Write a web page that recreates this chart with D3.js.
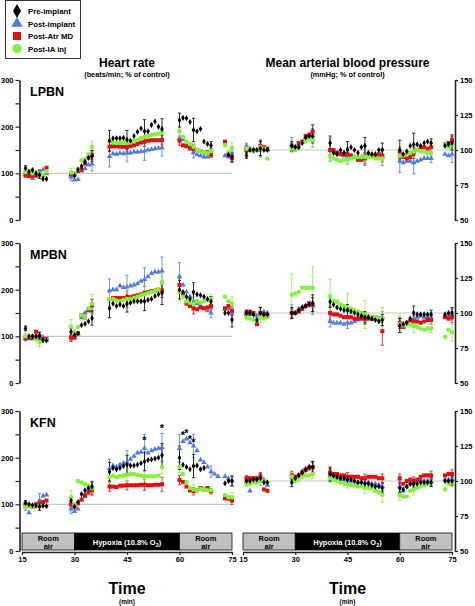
<!DOCTYPE html>
<html><head><meta charset="utf-8">
<script src="https://cdn.jsdelivr.net/npm/d3@7"></script>
<style>
body{margin:0;background:#fff}
svg{display:block}
text{font-family:"Liberation Sans",Arial,sans-serif;font-weight:bold}
</style>
</head><body>
<svg id="c" width="475" height="606"></svg>
<script>
// ---------------- DATA ----------------
const time = [16,17,18,19,20,21,22, 29,30,31,32,33,34,35,
  40,41,42,43,44,45,46,47,48,49,50,51,52,53,54,55,
  60,61,62,63,64,65,66,67,68,69,70,71, 73,74,75];
const errTimes = [16,20,29,35,40,45,50,55,60,64,69,75];
const xTicks = [15,30,45,60,75];
const hrTicks = [0,50,100,150,200,250,300];
const mapTicks = [50,75,100,125,150];
const seriesNames = ["Pre-implant","Post-implant","Post-Atr MD","Post-IA inj"];
const panelNames = ["LPBN","MPBN","KFN"];
const phases = [{from:15,to:30,label:["Room","air"]},{from:30,to:60,label:["Hypoxia (10.8% O","2",")"]},{from:60,to:75,label:["Room","air"]}];

// LPBN heart rate
const hrLPBN_pre  = [111,103,107,100,97,88,88, null,95,108,115,125,133,137, 170,175,175,175,176,172,170,180,189,196,190,190,204,211,200,195, 214,219,218,210,193,190,195,168,163,160,null,null, null,140,135];
const hrLPBN_post = [98,97,89,95,100,108,100, 92,86,87,105,110,118,120, 136,142,141,143,142,143,144,146,146,147,148,150,151,153,154,155, 175,172,160,152,145,140,138,135,135,150,null,null, 138,135,140];
const hrLPBN_atr  = [96,94,95,95,101,96,112, 98,97,105,108,121,134,139, 157,158,158,157,157,157,158,160,163,166,168,170,171,171,171,171, 170,160,158,155,152,150,148,145,145,140,null,null, 168,140,133];
const hrLPBN_ia   = [103,105,100,102,100,97,104, 102,100,108,128,130,141,157, 168,166,165,165,166,165,167,170,172,175,178,180,182,183,185,188, 191,178,168,163,157,150,148,145,143,148,null,null, 160,145,155];
// LPBN MAP
const mapLPBN_pre  = [96,100,100,100,101,100,100, 103,102,102,105,109,110,110, 105,98,97,100,98,100,102,100,98,102,103,98,97,97,100,100, 100,97,99,103,104,104,103,105,106,105,null,null, 103,104,105];
const mapLPBN_post = [103,101,100,100,101,102,100, 104,102,104,106,109,110,110, 100,99,98,97,96,96,96,95,95,95,96,96,96,96,96,95, 92,91,92,92,91,92,93,94,94,94,null,null, 97,96,97];
const mapLPBN_atr  = [100,100,100,100,103,102,101, 102,101,105,106,110,111,113, 100,100,98,97,97,97,96,95,93,93,94,96,96,95,97,96, 98,95,94,95,98,100,102,102,101,102,null,null, 104,105,107];
const mapLPBN_ia   = [101,101,99,100,102,101,94, 101,100,102,105,106,108,107, 96,94,93,92,93,93,94,95,95,95,95,95,95,94,94,94, 96,96,97,98,99,100,99,99,98,98,null,null, 104,102,104];
// MPBN heart rate
const hrMPBN_pre  = [117,100,100,100,101,92,91, 110,103,106,124,127,132,139, 160,170,165,168,165,170,172,175,175,175,175,178,180,186,190,193, 200,195,185,180,195,190,188,185,180,175,null,null, 150,150,135];
const hrMPBN_post = [95,95,97,100,97,98,92, 100,100,105,140,150,155,165, 198,200,200,208,205,206,208,210,213,218,222,228,235,238,238,240, 228,210,195,185,175,170,165,160,155,150,null,null, 158,160,150];
const hrMPBN_atr  = [97,97,96,110,100,93,95, 97,97,107,145,140,156,167, 180,182,182,182,182,183,184,186,188,190,192,195,197,198,200,198, 210,190,170,165,160,158,162,160,162,165,null,null, 160,165,155];
const hrMPBN_ia   = [100,100,100,93,88,90,92, 121,110,120,145,140,160,170, 180,180,177,175,178,180,180,182,185,188,190,193,195,198,200,215, 195,185,175,172,170,175,172,175,178,180,null,null, 185,175,170];
// MPBN MAP
const mapMPBN_pre  = [100,100,99,95,100,99,99, 100,100,102,104,105,106,107, 108,106,104,103,102,102,101,100,99,98,97,97,96,95,94,95, 91,92,93,96,100,99,99,99,99,99,null,null, 99,100,100];
const mapMPBN_post = [99,99,99,98,100,101,100, 101,100,103,104,105,106,105, 94,93,93,93,92,93,93,94,95,96,96,96,96,96,96,97, 91,90,93,95,96,97,98,97,97,97,null,null, 98,98,99];
const mapMPBN_atr  = [100,101,100,92,100,99,98, 100,100,101,103,105,107,106, 100,99,99,98,97,97,97,96,96,96,96,96,96,97,96,87, 93,90,93,94,94,94,93,94,95,95,null,null, 97,96,97];
const mapMPBN_ia   = [97,96,95,95,97,96,97, 113,114,115,118,118,118,118, 112,109,108,106,105,104,103,102,101,100,99,98,97,97,96,96, 92,91,92,92,91,90,89,88,89,89,null,null, 83,88,86];
// KFN heart rate
const hrKFN_pre  = [103,100,98,97,95,97,96, 108,95,105,122,130,135,138, 170,178,175,178,182,185,183,183,185,188,192,195,196,198,200,205, 200,185,180,175,182,183,175,178,null,null,null,null, 145,150,150];
const hrKFN_post = [95,82,95,100,108,118,120, 90,85,90,110,122,132,135, 177,183,180,185,188,190,197,203,210,212,220,210,215,218,220,222, 220,235,240,232,225,215,195,190,180,170,165,160, 160,155,150];
const hrKFN_atr  = [100,98,95,100,102,105,108, 100,95,102,110,118,125,130, 138,138,137,140,140,141,141,141,141,142,142,141,141,142,142,143, 152,148,138,130,128,130,135,132,135,128,null,null, 113,112,108];
const hrKFN_ia   = [95,97,95,96,96,97,97, 115,100,150,147,143,140,135, 158,162,158,160,162,163,165,165,163,162,160,160,160,160,162,180, 180,165,148,135,132,130,133,132,130,130,null,null, 120,115,115];
// KFN MAP
const mapKFN_pre  = [100,100,101,101,102,99,99, 99,102,104,106,108,110,110, 105,104,103,102,102,101,101,100,99,99,98,98,97,96,96,95, 95,94,96,98,98,98,99,99,99,99,null,null, 100,100,100];
const mapKFN_post = [100,93,101,101,100,101,97, 103,102,104,107,109,110,110, 104,103,102,101,101,100,100,100,99,99,99,99,98,98,97,96, 96,93,96,98,99,100,101,100,100,100,null,null, 101,101,101];
const mapKFN_atr  = [102,102,102,102,103,94,93, 104,103,104,106,108,109,110, 106,105,105,104,104,103,103,103,103,102,102,103,103,103,102,102, 102,98,100,101,100,101,103,104,104,104,null,null, 104,105,105];
const mapKFN_ia   = [98,98,99,99,100,100,99, 103,100,101,103,104,104,105, 102,101,100,99,98,98,97,97,96,96,95,95,95,93,92,90, 90,89,89,93,94,95,96,97,98,99,null,null, 94,98,99];

// SEM at errTimes
const hrLPBN_err  = [[5,8,8,12,22,20,25,22,15,25,8,10],[5,8,8,15,22,18,20,18,12,12,8,10],[4,6,6,10,10,10,10,10,10,10,6,10],[5,6,8,12,12,10,10,12,12,8,6,10]];
const mapLPBN_err = [[2,5,3,5,5,6,6,5,7,8,3,5],[2,6,5,8,8,6,7,6,8,8,3,6],[2,4,3,5,5,4,4,4,4,4,3,4],[2,3,3,5,4,3,3,3,4,4,3,4]];
const hrMPBN_err  = [[5,8,8,15,20,18,20,25,20,20,10,15],[5,8,10,15,25,25,25,30,30,15,10,12],[5,8,8,12,15,15,15,15,15,12,8,10],[6,10,15,20,20,18,18,20,20,15,10,15]];
const mapMPBN_err = [[2,4,4,6,4,4,4,4,5,5,3,4],[2,4,5,6,4,4,4,4,5,5,3,4],[2,4,3,5,5,4,4,10,4,4,3,4],[2,4,15,15,12,10,10,8,6,5,3,6]];
const hrKFN_err   = [[5,8,8,10,20,20,20,25,25,25,10,10],[8,15,10,15,20,25,30,30,30,25,12,12],[5,8,8,10,10,10,12,15,10,8,6,8],[5,8,15,10,12,12,10,15,12,10,8,10]];
const mapKFN_err  = [[2,3,3,4,5,3,3,3,3,3,3,3],[2,3,3,4,4,3,3,3,4,3,3,3],[2,3,3,3,3,3,3,3,3,3,3,3],[2,3,3,3,3,3,4,5,4,4,3,3]];

// significance asterisks (KFN heart rate): time and level
const starTimes = [50,55,61,62,63,64];
const starLevels = [240,266,250,256,242,236];

// ---------------- CHART ----------------
const colors = ["#000000","#4f7be0","#e01010","#84f23c"];
const symbols = [d3.symbolDiamond, d3.symbolTriangle, d3.symbolSquare, d3.symbolCircle];
const sizes = [11,13,16,16];
const drawOrder = [1,2,3,0];

const svg = d3.select("#c");
const xL = d3.scaleLinear().domain([15,75]).range([22,232]);
const xR = d3.scaleLinear().domain([15,75]).range([243,452]);
const rows = [{top:80,bottom:220},{top:243,bottom:383},{top:411,bottom:551}];

const panelData = [
  {hr:[hrLPBN_pre,hrLPBN_post,hrLPBN_atr,hrLPBN_ia], map:[mapLPBN_pre,mapLPBN_post,mapLPBN_atr,mapLPBN_ia], hrErr:hrLPBN_err, mapErr:mapLPBN_err},
  {hr:[hrMPBN_pre,hrMPBN_post,hrMPBN_atr,hrMPBN_ia], map:[mapMPBN_pre,mapMPBN_post,mapMPBN_atr,mapMPBN_ia], hrErr:hrMPBN_err, mapErr:mapMPBN_err},
  {hr:[hrKFN_pre,hrKFN_post,hrKFN_atr,hrKFN_ia], map:[mapKFN_pre,mapKFN_post,mapKFN_atr,mapKFN_ia], hrErr:hrKFN_err, mapErr:mapKFN_err}
];

function styleAxis(g){
  g.selectAll("path.domain").attr("stroke","#222").attr("stroke-width",1.6);
  g.selectAll(".tick line").attr("stroke","#222").attr("stroke-width",1.2);
  g.selectAll(".tick text").attr("font-size",7.5).attr("fill","#000")
    .attr("font-family","'Liberation Sans',Arial,sans-serif").attr("font-weight","bold");
}

function drawSeries(g, x, y, values, errs, i){
  const pts = time.map((t,k)=>({t, v:values[k]})).filter(d=>d.v!=null);
  const eg = g.append("g");
  errTimes.forEach((t,k)=>{
    const k2 = time.indexOf(t);
    const v = values[k2];
    if (v==null) return;
    const e = errs[i][k];
    const cx = x(t);
    eg.append("line").attr("x1",cx).attr("x2",cx).attr("y1",y(v-e)).attr("y2",y(v+e))
      .attr("stroke",colors[i]).attr("stroke-width",0.8);
    [v-e,v+e].forEach(w=>eg.append("line").attr("x1",cx-1.6).attr("x2",cx+1.6).attr("y1",y(w)).attr("y2",y(w))
      .attr("stroke",colors[i]).attr("stroke-width",0.8));
  });
  return pts;
}

panelData.forEach((pd, r)=>{
  const row = rows[r];
  const yHR = d3.scaleLinear().domain([0,300]).range([row.bottom,row.top]);
  const yMAP = d3.scaleLinear().domain([50,150]).range([row.bottom,row.top]);
  svg.append("line").attr("x1",xL(15)).attr("x2",xL(75)).attr("y1",yHR(100)).attr("y2",yHR(100)).attr("stroke","#c8c8c8").attr("stroke-width",1.2);
  svg.append("line").attr("x1",xR(15)).attr("x2",xR(75)).attr("y1",yMAP(100)).attr("y2",yMAP(100)).attr("stroke","#c8c8c8").attr("stroke-width",1.2);
  const gl = svg.append("g").attr("transform","translate(19.5,0)")
    .call(d3.axisLeft(yHR).tickValues(hrTicks).tickFormat(d=>d%100===0?d:"").tickSize(4).tickSizeOuter(0).tickPadding(2));
  styleAxis(gl);
  const gr = svg.append("g").attr("transform","translate(455,0)")
    .call(d3.axisRight(yMAP).tickValues(mapTicks).tickSize(3).tickSizeOuter(0).tickPadding(2));
  styleAxis(gr);
  svg.append("text").attr("x",30).attr("y",row.top+16).attr("font-size",12.5).text(panelNames[r]);

  [[xL,yHR,pd.hr,pd.hrErr],[xR,yMAP,pd.map,pd.mapErr]].forEach(([x,y,ser,errs])=>{
    const g = svg.append("g");
    const allPts = [];
    drawOrder.forEach(i=>{ allPts[i] = drawSeries(g,x,y,ser[i],errs,i); });
    drawOrder.forEach(i=>{
      g.append("g").selectAll("path").data(allPts[i]).join("path")
        .attr("transform",d=>`translate(${x(d.t)},${y(d.v)})`)
        .attr("d",d3.symbol(symbols[i],sizes[i]))
        .attr("fill",colors[i]);
    });
  });

  if (r===2){
    starTimes.forEach((t,k)=>{
      svg.append("text").attr("x",xL(t)).attr("y",yHR(starLevels[k])+5).attr("text-anchor","middle")
        .attr("font-size",11).text("*");
    });
  }
});

const rowK = rows[2];
[xL,xR].forEach(x=>{
  phases.forEach((p,k)=>{
    svg.append("rect").attr("x",x(p.from)).attr("y",533).attr("width",x(p.to)-x(p.from)).attr("height",17)
      .attr("fill",k===1?"#000":"#c0c0c0").attr("stroke","#111").attr("stroke-width",0.8);
    const cx=(x(p.from)+x(p.to))/2;
    if(k===1){
      const t = svg.append("text").attr("x",cx).attr("y",544.5).attr("text-anchor","middle").attr("font-size",7.5).attr("fill","#fff");
      t.append("tspan").text(p.label[0]);
      t.append("tspan").attr("font-size",5.5).attr("dy",2).text(p.label[1]);
      t.append("tspan").attr("dy",-2).text(p.label[2]);
    } else {
      svg.append("text").attr("x",cx).attr("y",541).attr("text-anchor","middle").attr("font-size",7.5).text(p.label[0]);
      svg.append("text").attr("x",cx).attr("y",549).attr("text-anchor","middle").attr("font-size",7.5).text(p.label[1]);
    }
  });
  const gx = svg.append("g").attr("transform",`translate(0,${rowK.bottom+1})`)
    .call(d3.axisBottom(x).tickValues(xTicks).tickSize(3).tickSizeOuter(0).tickPadding(2));
  styleAxis(gx);
});

[[xL,"Heart rate","(beats/min; % of control)"],[xR,"Mean arterial blood pressure","(mmHg; % of control)"]].forEach(([x,a,b])=>{
  const cx=(x(15)+x(75))/2;
  svg.append("text").attr("x",cx).attr("y",67).attr("text-anchor","middle").attr("font-size",12).text(a);
  svg.append("text").attr("x",cx).attr("y",76.5).attr("text-anchor","middle").attr("font-size",7.3).text(b);
  svg.append("text").attr("x",cx).attr("y",594).attr("text-anchor","middle").attr("font-size",16).text("Time");
  svg.append("text").attr("x",cx).attr("y",603.5).attr("text-anchor","middle").attr("font-size",6.5).text("(min)");
});

const lg = svg.append("g");
lg.append("rect").attr("x",5.5).attr("y",0.5).attr("width",75).attr("height",58).attr("fill","#fff").attr("stroke","#333").attr("stroke-width",1);
seriesNames.forEach((n,i)=>{
  const yy = 11 + i*12.5;
  lg.append("path").attr("transform",`translate(17,${yy})`).attr("d",d3.symbol(symbols[i],i===0?55:i===1?55:64)).attr("fill",colors[i]);
  lg.append("text").attr("x",28).attr("y",yy+3).attr("font-size",7.8).text(n);
});
</script>
</body></html>
